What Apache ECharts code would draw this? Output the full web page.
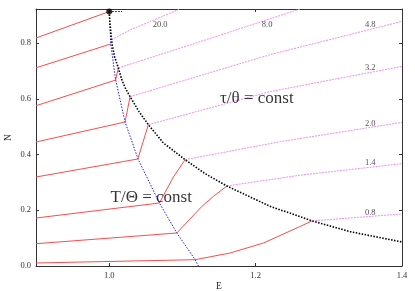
<!DOCTYPE html>
<html><head><meta charset="utf-8">
<script src="https://cdn.jsdelivr.net/npm/echarts@6/dist/echarts.min.js"></script>
<style>html,body{margin:0;padding:0;background:#fff}#c{width:415px;height:291px}</style>
</head><body><div id="c"></div>
<script>
// axis ticks
const xTicks = [1.0, 1.2, 1.4];
const yTicks = [0, 0.2, 0.4, 0.6, 0.8];

// black boundary curve
const boundary = [[1.0,0.9128],[1.0012,0.8658],[1.0039,0.7965],[1.0073,0.7510],[1.0125,0.7104],[1.0172,0.6685],[1.0217,0.6398],[1.0285,0.6075],[1.0408,0.5536],[1.0535,0.5070],[1.0741,0.4413],[1.1037,0.3814],[1.1311,0.3312],[1.1607,0.2870],[1.2199,0.2139],[1.2610,0.1769],[1.2770,0.1618],[1.3293,0.1231],[1.4,0.0861]];
// blue curve
const blueCurve = [[1.0,0.9128],[1.0005,0.8800],[1.0021,0.7965],[1.0087,0.6685],[1.0217,0.5167],[1.0395,0.3832],[1.0686,0.2260],[1.0924,0.1184],[1.1174,0.0226],[1.1219,0]];
// red lines  T/Theta = const
const red1 = [[0.9,0.818],[1.0,0.9128]];
const red2 = [[0.9,0.711],[1.0021,0.7965]];
const red3 = [[0.9,0.575],[1.0087,0.667],[1.0125,0.7104]];
const red4 = [[0.9,0.4449],[1.0217,0.5167],[1.0285,0.6075]];
const red5 = [[0.9,0.3193],[1.0391,0.3839],[1.0535,0.5070]];
const red6 = [[0.9,0.1722],[1.0686,0.2260],[1.0877,0.3193],[1.1037,0.3814]];
const red7 = [[0.9,0.0800],[1.0924,0.1184],[1.1266,0.2139],[1.1424,0.2497],[1.1607,0.2870]];
const red8 = [[0.9,0.0108],[1.1174,0.0226],[1.1652,0.0466],[1.2108,0.0825],[1.2610,0.1421],[1.2770,0.1618]];
// magenta lines  tau/theta = const
const mag1 = [[1.0033,0.812],[1.0285,0.8468],[1.0969,0.9222]];
const mag2 = [[1.0125,0.7104],[1.1242,0.8048],[1.2610,0.9222]];
const mag3 = [[1.0285,0.6075],[1.2199,0.7582],[1.4,0.8776]];
const mag4 = [[1.0535,0.5070],[1.2199,0.6259],[1.4,0.7162]];
const mag5 = [[1.1037,0.3814],[1.2336,0.4460],[1.4,0.5153]];
const mag6 = [[1.1607,0.2870],[1.2610,0.3258],[1.4,0.3671]];
const mag7 = [[1.2770,0.1618],[1.4,0.1866]];
// labels
const tauLabels = ['20.0','8.0','4.8','3.2','2.0','1.4','0.8'];
const tauLabelAt = [[1.0695,0.8659],[1.2158,0.8659],[1.3567,0.8659],[1.3567,0.7104],[1.3567,0.5106],[1.3567,0.3696],[1.3567,0.1902]];
const bigLabels = ['τ/θ = const','T/Θ = const'];
const bigLabelAt = [[1.2017,0.6003],[1.0574,0.2469]];
const startPoint = [[1.0,0.9128]];
const startDash = [[1.0,0.9128],[1.0176,0.9128]];

const serif = "'Liberation Serif','Times New Roman',serif";
const chart = echarts.init(document.getElementById('c'), null, {renderer:'canvas'});

function ln(data, color, width, type, z){
  return {type:'line', data, symbol:'none', showSymbol:false, silent:true, z,
    lineStyle:{color, width, type}, clip:true};
}
function axisCommon(pos, ticks, showLabel){
  return {type:'value', position:pos, splitLine:{show:false},
    axisLine:{show:true, onZero:false, lineStyle:{color:'#333', width:1}},
    axisTick:{show:true, inside:true, length:3, customValues:ticks, lineStyle:{color:'#333'}},
    axisLabel:{show:showLabel, customValues:ticks, formatter:v=>v.toFixed(1), fontFamily:serif, fontSize:8.5, color:'#333', margin:5}};
}
const xb = Object.assign(axisCommon('bottom', xTicks, true), {min:0.9, max:1.4, name:'E', nameLocation:'middle', nameGap:15, nameMoveOverlap:false, nameTextStyle:{fontFamily:serif, fontSize:9.5, color:'#222'}});
const xt = Object.assign(axisCommon('top', xTicks, false), {min:0.9, max:1.4});
const yl = Object.assign(axisCommon('left', yTicks, true), {min:0, max:0.922, name:'N', nameLocation:'middle', nameGap:23, nameRotate:90, nameMoveOverlap:false, nameTextStyle:{fontFamily:serif, fontSize:9.5, color:'#222'}});
const yr = Object.assign(axisCommon('right', yTicks, false), {min:0, max:0.922});

const magColor = '#f58cf5', redColor = '#ff4a4a';
const series = [];
[mag1,mag2,mag3,mag4,mag5,mag6,mag7].forEach(d=>series.push(ln(d, magColor, 1, [2,1], 2)));
[red1,red2,red3,red4,red5,red6,red7,red8].forEach(d=>series.push(ln(d, redColor, 1, 'solid', 3)));
series.push(ln(blueCurve, '#1a1aff', 1, [1.5,1.5], 4));
series.push(ln(boundary, '#000', 1.6, [1.5,1.5], 5));
series.push(ln(startDash, '#000', 1, [1.5,1.5], 5));
series.push({type:'scatter', data:startPoint, symbol:'circle', symbolSize:6, itemStyle:{color:'#000'}, z:6, silent:true});
series.push({type:'scatter', data:tauLabelAt.map((p,i)=>[p[0],p[1],tauLabels[i]]), symbolSize:1, itemStyle:{color:'rgba(0,0,0,0)'}, z:7, silent:true,
  label:{show:true, position:'inside', formatter:p=>p.data[2], fontFamily:serif, fontSize:8.5, color:'#222'}});
series.push({type:'scatter', data:bigLabelAt.map((p,i)=>[p[0],p[1],bigLabels[i]]), symbolSize:1, itemStyle:{color:'rgba(0,0,0,0)'}, z:8, silent:true,
  label:{show:true, position:'inside', formatter:p=>p.data[2], fontFamily:serif, fontSize:17, color:'#000'}});

chart.setOption({
  animation:false,
  backgroundColor:'#fff',
  grid:{left:36, right:13, top:9, bottom:25, containLabel:false, outerBoundsMode:'none'},
  xAxis:[xb, xt],
  yAxis:[yl, yr],
  series
});
</script></body></html>
